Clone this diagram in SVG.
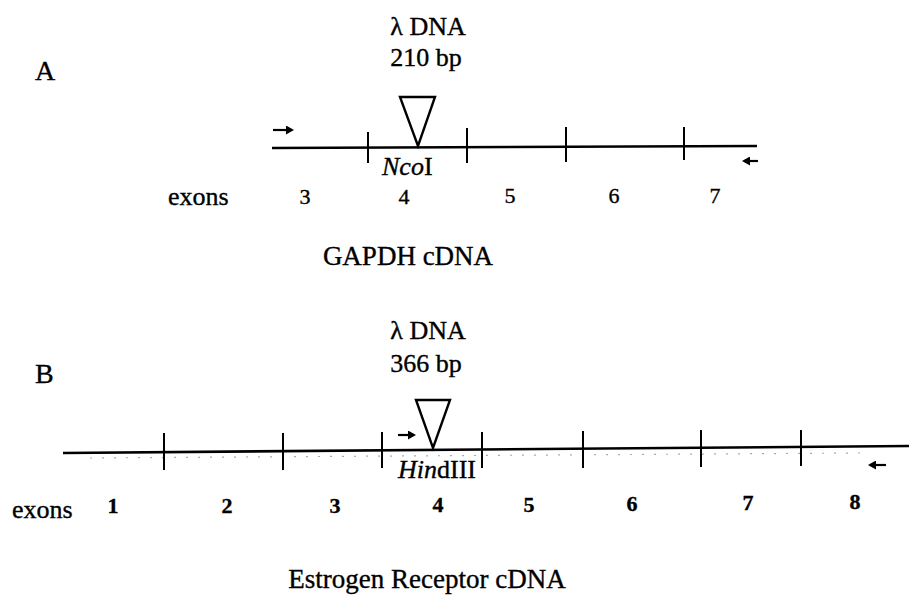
<svg xmlns="http://www.w3.org/2000/svg" width="909" height="599" viewBox="0 0 909 599">
  <style>
    .t { font-family: "Liberation Serif", "Times New Roman", serif; fill: #000; stroke: #000; stroke-width: 0.35; }
    .lbl { font-size: 26px; }
    .ttl { font-size: 27px; }
    .num { font-size: 22px; }
    .numb { font-size: 22px; font-weight: bold; }
    .panel { font-size: 28px; }
    .dna { stroke: #000; stroke-width: 2.6; fill: none; }
    .tick { stroke: #000; stroke-width: 2; fill: none; }
    .ins { stroke: #000; stroke-width: 2.4; fill: #fff; stroke-linejoin: miter; }
    .primer { stroke: #000; stroke-width: 2.2; fill: none; }
    .speck { stroke: #aaa; stroke-width: 1.2; stroke-dasharray: 2 10; fill: none; }
    .it { font-style: italic; }
  </style>
  <defs>
    <marker id="head" markerWidth="9" markerHeight="9" refX="6" refY="4.5" orient="auto" markerUnits="userSpaceOnUse">
      <path d="M0,0 L8,4.5 L0,9 Z" fill="#000"/>
    </marker>
  </defs>

  <rect width="909" height="599" fill="#fff"/>

  <!-- Panel A: GAPDH cDNA -->
  <g id="panelA">
    <text class="t panel" x="35" y="80">A</text>
    <g id="insertA">
      <text class="t lbl" x="428" y="35" text-anchor="middle">λ DNA</text>
      <text class="t lbl" x="426" y="66" text-anchor="middle">210 bp</text>
      <polygon class="ins" points="400,97 435,97 418,146"/>
    </g>
    <g id="cdnaA">
      <line class="dna" x1="272" y1="148" x2="757" y2="146"/>
      <line class="tick" x1="368" y1="132" x2="368" y2="163"/>
      <line class="tick" x1="467" y1="128" x2="467" y2="163"/>
      <line class="tick" x1="566" y1="127" x2="566" y2="162"/>
      <line class="tick" x1="684" y1="127" x2="684" y2="160"/>
    </g>
    <g id="primersA">
      <line class="primer" x1="273" y1="130" x2="292" y2="130" marker-end="url(#head)"/>
      <line class="primer" x1="758" y1="161" x2="744" y2="161" marker-end="url(#head)"/>
    </g>
    <text id="siteA" class="t lbl" x="382" y="175"><tspan class="it">Nco</tspan>I</text>
    <g id="exonsA">
      <text class="t lbl" x="168" y="205">exons</text>
      <text class="t num" x="305" y="204" text-anchor="middle">3</text>
      <text class="t num" x="404" y="204" text-anchor="middle">4</text>
      <text class="t num" x="510" y="203" text-anchor="middle">5</text>
      <text class="t num" x="614" y="203" text-anchor="middle">6</text>
      <text class="t num" x="715" y="203" text-anchor="middle">7</text>
    </g>
    <text id="titleA" class="t ttl" x="408" y="265" text-anchor="middle">GAPDH cDNA</text>
  </g>

  <!-- Panel B: Estrogen Receptor cDNA -->
  <g id="panelB">
    <text class="t panel" x="35" y="383">B</text>
    <g id="insertB">
      <text class="t lbl" x="428" y="339" text-anchor="middle">λ DNA</text>
      <text class="t lbl" x="426" y="372" text-anchor="middle">366 bp</text>
      <polygon class="ins" points="416,400 450,400 433,448"/>
    </g>
    <g id="cdnaB">
      <line class="speck" x1="90" y1="458" x2="860" y2="453"/>
      <line class="dna" x1="63" y1="453" x2="909" y2="446"/>
      <line class="tick" x1="164" y1="433" x2="164" y2="470"/>
      <line class="tick" x1="283" y1="433" x2="283" y2="470"/>
      <line class="tick" x1="382" y1="432" x2="382" y2="468"/>
      <line class="tick" x1="482" y1="432" x2="482" y2="468"/>
      <line class="tick" x1="583" y1="431" x2="583" y2="468"/>
      <line class="tick" x1="701" y1="430" x2="701" y2="467"/>
      <line class="tick" x1="801" y1="430" x2="801" y2="466"/>
    </g>
    <g id="primersB">
      <line class="primer" x1="398" y1="435" x2="414" y2="435" marker-end="url(#head)"/>
      <line class="primer" x1="886" y1="465" x2="870" y2="465" marker-end="url(#head)"/>
    </g>
    <text id="siteB" class="t lbl" x="398" y="478"><tspan class="it">Hin</tspan>dIII</text>
    <g id="exonsB">
      <text class="t lbl" x="12" y="518">exons</text>
      <text class="t numb" x="113" y="513" text-anchor="middle">1</text>
      <text class="t numb" x="227" y="513" text-anchor="middle">2</text>
      <text class="t numb" x="335" y="513" text-anchor="middle">3</text>
      <text class="t numb" x="438" y="512" text-anchor="middle">4</text>
      <text class="t numb" x="529" y="512" text-anchor="middle">5</text>
      <text class="t numb" x="632" y="511" text-anchor="middle">6</text>
      <text class="t numb" x="748" y="510" text-anchor="middle">7</text>
      <text class="t numb" x="855" y="509" text-anchor="middle">8</text>
    </g>
    <text id="titleB" class="t ttl" x="427" y="588" text-anchor="middle">Estrogen Receptor cDNA</text>
  </g>
</svg>
